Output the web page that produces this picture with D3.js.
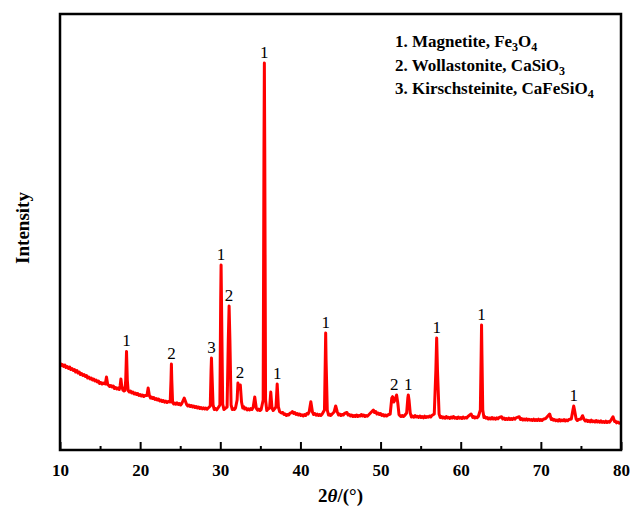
<!DOCTYPE html>
<html>
<head>
<meta charset="utf-8">
<script src="https://cdn.jsdelivr.net/npm/d3@7/dist/d3.min.js"></script>
<style>
  html, body { margin: 0; padding: 0; background: #fff; }
  svg { display: block; }
  text { font-family: "Liberation Serif", "Times New Roman", serif; }
</style>
</head>
<body>
<svg id="chart" width="630" height="511"></svg>
<script>
// ---------- data ----------
// XRD pattern: [2θ (°), intensity (a.u.)]
const pattern = [
[10.0,870],[10.15,845],[10.3,855],[10.45,835],[10.6,850],[10.75,825],[10.9,835],[11.05,815],[11.2,830],[11.35,805],
[11.5,815],[11.65,795],[11.8,805],[11.95,780],[12.1,795],[12.25,770],[12.4,780],[12.55,755],[12.7,765],[12.85,745],
[13.0,755],[13.15,735],[13.3,745],[13.45,720],[13.6,730],[13.75,710],[13.9,720],[14.05,700],[14.2,710],[14.35,690],
[14.5,700],[14.65,680],[14.8,690],[14.95,665],[15.1,675],[15.25,660],[15.4,670],[15.65,660],
[15.8,730],[15.95,655],[16.1,645],[16.2,635],[16.35,645],[16.5,630],[16.65,640],[16.8,615],[16.95,625],[17.1,610],[17.25,620],[17.4,605],[17.5,640],[17.6,710],[17.7,640],
[17.85,600],[18.0,590],[18.1,595],[18.2,700],[18.3,985],[18.4,700],[18.5,595],[18.65,580],[18.8,590],[18.95,570],[19.1,580],[19.25,560],[19.4,570],[19.55,555],[19.7,565],
[19.85,545],[20.0,555],[20.15,540],[20.3,550],[20.45,535],[20.6,545],[20.85,545],[21.0,620],[21.15,545],[21.3,520],[21.4,530],[21.55,515],[21.7,525],[21.85,505],[22.0,515],[22.15,500],[22.3,510],
[22.45,490],[22.6,500],[22.75,485],[22.9,495],[23.05,478],[23.2,488],[23.35,475],[23.5,485],[23.75,480],[23.85,700],[23.9,860],[23.95,700],[24.05,475],[24.2,460],[24.3,470],
[24.45,458],[24.6,472],[24.75,455],[24.9,465],[25.05,450],[25.2,465],[25.5,520],[25.8,455],[25.95,440],[26.1,450],[26.25,435],[26.4,445],[26.55,430],[26.7,440],[26.85,425],[27.0,435],[27.15,420],[27.3,430],
[27.45,415],[27.6,425],[27.75,412],[27.9,422],[28.05,410],[28.2,420],[28.35,408],[28.5,420],[28.75,440],[28.85,800],[28.9,920],[28.95,800],[29.1,450],[29.25,405],[29.4,415],
[29.55,402],[29.7,418],[29.95,450],[30.05,1500],[30.1,1850],[30.15,1500],[30.3,460],[30.45,405],[30.6,415],[30.85,430],[31.0,1100],[31.1,1440],
[31.2,1100],[31.35,450],[31.5,405],[31.6,415],[31.75,405],[31.9,420],[32.1,500],[32.2,670],[32.35,610],[32.5,650],[32.65,480],[32.8,420],[32.9,435],
[33.05,410],[33.2,420],[33.35,400],[33.5,412],[33.65,400],[33.8,415],[33.95,405],[34.1,425],[34.3,530],[34.5,415],[34.65,398],[34.8,410],[34.95,395],[35.1,405],[35.35,500],[35.45,3000],
[35.5,3870],[35.55,3000],[35.65,500],[35.8,395],[35.9,405],[36.15,420],[36.3,580],[36.45,420],[36.6,395],[36.7,405],[36.95,430],[37.1,660],
[37.25,430],[37.4,385],[37.5,378],[37.65,370],[37.8,375],[37.95,355],[38.1,360],[38.25,345],[38.4,355],[38.55,350],[38.7,368],[38.85,372],[39.0,385],[39.15,365],[39.3,375],[39.45,355],[39.6,365],[39.75,350],[39.9,360],
[40.05,345],[40.2,352],[40.35,340],[40.5,355],[40.65,345],[40.8,365],[40.95,360],[41.1,385],[41.3,483],[41.5,380],[41.65,355],[41.8,365],[41.95,348],[42.1,358],[42.25,345],[42.4,355],[42.55,345],[42.7,358],
[43.0,400],[43.1,900],[43.15,1170],[43.2,900],[43.35,400],[43.5,350],[43.6,360],[43.75,345],[43.9,355],[44.2,380],[44.4,440],[44.6,380],
[44.75,350],[44.9,360],[45.05,345],[45.2,355],[45.35,350],[45.5,365],[45.8,375],[45.95,350],[46.1,355],[46.25,340],[46.4,350],[46.55,335],[46.7,345],[46.85,335],[47.0,350],[47.15,335],[47.3,345],[47.45,340],[47.6,355],
[47.75,340],[47.9,350],[48.05,335],[48.2,345],[48.35,338],[48.5,350],[48.8,375],[49.1,400],[49.25,375],[49.4,385],[49.55,360],[49.7,370],[49.85,355],[50.0,365],[50.15,345],[50.3,355],[50.45,340],[50.6,350],
[50.75,340],[50.9,350],[51.2,360],[51.4,520],[51.5,533],[51.65,480],[51.8,500],[52.0,550],[52.15,470],[52.3,355],[52.4,345],[52.55,335],[52.7,345],[52.85,335],
[53.0,345],[53.25,370],[53.4,520],[53.46,550],[53.55,500],[53.7,370],[53.85,330],[54.0,340],[54.15,328],[54.3,345],[54.45,330],[54.6,338],[54.75,325],[54.9,340],
[55.05,325],[55.2,335],[55.35,322],[55.5,338],[55.65,325],[55.8,335],[55.95,328],[56.1,340],[56.25,330],[56.4,345],[56.7,360],[56.9,800],[57.0,1120],[57.1,800],[57.3,360],
[57.45,325],[57.6,335],[57.75,320],[57.9,330],[58.05,318],[58.2,335],[58.35,320],[58.5,328],[58.65,315],[58.8,330],[58.95,320],[59.1,335],[59.25,318],[59.4,325],[59.55,315],[59.7,330],[59.85,318],[60.0,325],[60.15,315],[60.3,330],
[60.45,318],[60.6,325],[60.75,320],[60.9,335],[61.3,360],[61.5,325],[61.6,335],[61.75,320],[61.9,330],[62.05,322],[62.2,335],[62.45,400],[62.55,950],[62.6,1250],[62.65,950],
[62.75,400],[62.9,325],[63.0,335],[63.15,318],[63.3,325],[63.45,310],[63.6,320],[63.75,310],[63.9,325],[64.05,310],[64.2,320],[64.35,308],[64.5,322],[64.65,312],[64.8,325],[65.1,333],[65.25,310],[65.4,320],
[65.55,305],[65.7,315],[65.85,305],[66.0,318],[66.15,305],[66.3,315],[66.45,305],[66.6,318],[66.75,308],[66.9,322],[67.3,333],[67.45,305],[67.6,315],[67.75,300],[67.9,310],[68.05,300],[68.2,312],[68.35,298],[68.5,308],
[68.65,298],[68.8,305],[68.95,295],[69.1,308],[69.25,295],[69.4,305],[69.55,295],[69.7,308],[69.85,295],[70.0,305],[70.15,295],[70.3,308],[70.6,315],[71.1,360],[71.3,305],[71.4,315],[71.55,298],[71.7,305],
[71.85,292],[72.0,300],[72.15,290],[72.3,305],[72.45,290],[72.6,300],[72.75,292],[72.9,305],[73.05,290],[73.2,300],[73.35,292],[73.5,305],[73.8,310],[74.0,400],[74.1,440],[74.2,400],
[74.4,310],[74.55,295],[74.7,305],[75.0,310],[75.2,343],[75.4,305],[75.55,290],[75.7,300],[75.85,285],[76.0,295],[76.15,282],[76.3,298],[76.45,282],[76.6,290],[76.75,280],[76.9,295],
[77.05,280],[77.2,290],[77.35,278],[77.5,292],[77.65,276],[77.8,285],[77.95,275],[78.1,288],[78.25,275],[78.4,285],[78.55,278],[78.7,292],[79.0,333],[79.2,285],[79.3,290],[79.45,272],[79.6,280],[79.8,268],[80.0,275]
];

// phase labels above peaks: [2θ position, label]
const peakLabels = [
  [18.3,"1"],[23.9,"2"],[28.9,"3"],[30.1,"1"],[31.1,"2"],[32.45,"2"],[35.5,"1"],[37.1,"1"],
  [43.15,"1"],[51.7,"2"],[53.46,"1"],[57.0,"1"],[62.6,"1"],[74.1,"1"]
];

// legend entries: [text part, is subscript]
const legendEntries = [
  [["1. Magnetite, Fe",false],["3",true],["O",false],["4",true]],
  [["2. Wollastonite, CaSiO",false],["3",true]],
  [["3. Kirschsteinite, CaFeSiO",false],["4",true]]
];

const xMajorTicks = [10,20,30,40,50,60,70,80];
const xMinorTicks = [15,25,35,45,55,65,75];

// ---------- layout ----------
const W = 630, H = 511;
const M = { left: 60, right: 9, top: 14, bottom: 61 };
const svg = d3.select("#chart");
const x = d3.scaleLinear().domain([10, 80]).range([M.left, W - M.right]);
const y = d3.scaleLinear().domain([0, 4360]).range([H - M.bottom, M.top]);

svg.append("clipPath").attr("id","clip").append("rect")
  .attr("x", M.left).attr("y", M.top)
  .attr("width", W - M.left - M.right).attr("height", H - M.top - M.bottom);

// pattern line
const line = d3.line().x(d => x(d[0])).y(d => y(d[1]));
svg.append("path").datum(pattern)
  .attr("clip-path","url(#clip)")
  .attr("d", line)
  .attr("fill","none")
  .attr("stroke","#ff0000")
  .attr("stroke-width",3)
  .attr("stroke-linejoin","round");

// frame
svg.append("rect")
  .attr("x", M.left).attr("y", M.top)
  .attr("width", W - M.left - M.right).attr("height", H - M.top - M.bottom)
  .attr("fill","none").attr("stroke","#000").attr("stroke-width",2.5);

// x axis (inward ticks)
const xAxis = d3.axisBottom(x).tickValues(xMajorTicks).tickSize(-8).tickPadding(14).tickFormat(d3.format("d"));
const gx = svg.append("g").attr("transform", `translate(0,${H - M.bottom})`).call(xAxis);
gx.select(".domain").remove();
gx.selectAll(".tick line").attr("stroke","#000").attr("stroke-width",2);
gx.selectAll(".tick text")
  .attr("font-family",'"Liberation Serif", "Times New Roman", serif')
  .attr("font-size",17).attr("font-weight","bold").attr("fill","#000");

const xMinor = d3.axisBottom(x).tickValues(xMinorTicks).tickSize(-4).tickFormat("");
const gxm = svg.append("g").attr("transform", `translate(0,${H - M.bottom})`).call(xMinor);
gxm.select(".domain").remove();
gxm.selectAll(".tick line").attr("stroke","#000").attr("stroke-width",2);

// axis titles
const xt = svg.append("text")
  .attr("x", (M.left + W - M.right) / 2).attr("y", 502)
  .attr("text-anchor","middle").attr("font-size",19).attr("font-weight","bold");
xt.append("tspan").text("2");
xt.append("tspan").attr("font-style","italic").text("θ");
xt.append("tspan").text("/(°)");

svg.append("text")
  .attr("transform", `translate(29,${(M.top + H - M.bottom) / 2 - 4}) rotate(-90)`)
  .attr("text-anchor","middle").attr("font-size",19).attr("font-weight","bold")
  .text("Intensity");

// peak labels
peakLabels.forEach(([t, lab]) => {
  const near = pattern.filter(d => Math.abs(d[0] - t) <= 0.4);
  const top = d3.max(near, d => d[1]);
  svg.append("text")
    .attr("x", x(t)).attr("y", y(top) - 5.5)
    .attr("text-anchor","middle").attr("font-size",17).attr("fill","#000")
    .text(lab);
});

// legend
legendEntries.forEach((parts, i) => {
  const t = svg.append("text")
    .attr("x", 395).attr("y", 47 + i * 23.5)
    .attr("font-size",17).attr("font-weight","bold").attr("fill","#000");
  let prevSub = false;
  parts.forEach(([s, sub]) => {
    const ts = t.append("tspan").text(s);
    if (sub) ts.attr("font-size",12).attr("dy",4);
    else if (prevSub) ts.attr("dy",-4);
    prevSub = sub;
  });
});
</script>
</body>
</html>
